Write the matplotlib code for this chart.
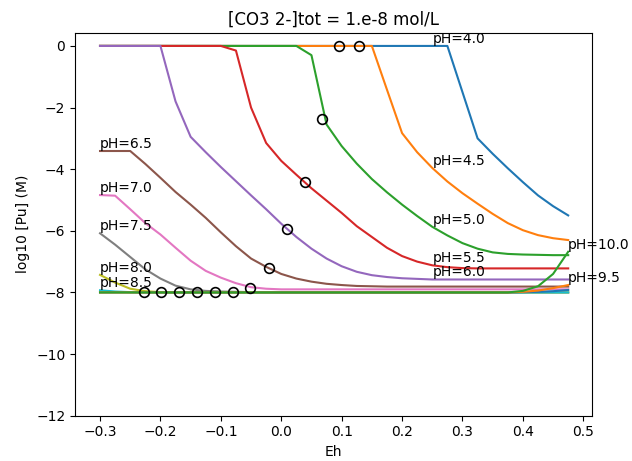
import matplotlib
matplotlib.use("Agg")
import matplotlib.pyplot as plt
import numpy as np

# Eh grid (V)
EH = [-0.300, -0.275, -0.250, -0.225, -0.200, -0.175, -0.150, -0.125,
      -0.100, -0.075, -0.050, -0.025, 0.000, 0.025, 0.050, 0.075,
      0.100, 0.125, 0.150, 0.175, 0.200, 0.225, 0.250, 0.275,
      0.300, 0.325, 0.350, 0.375, 0.400, 0.425, 0.450, 0.475]

PH = [4.0, 4.5, 5.0, 5.5, 6.0, 6.5, 7.0, 7.5, 8.0, 8.5, 9.0, 9.5, 10.0]

# log10 [Pu], one list per pH
pu_40 = [0, 0, 0, 0, 0, 0, 0, 0, 0, 0, 0, 0, 0, 0, 0, 0,
         0, 0, 0, 0, 0, 0, 0, 0, -1.5, -3.0, -3.5, -3.97, -4.42, -4.85, -5.2, -5.5]
pu_45 = [0, 0, 0, 0, 0, 0, 0, 0, 0, 0, 0, 0, 0, 0, 0, 0,
         0, 0, 0, -1.42, -2.83, -3.45, -3.96, -4.4, -4.78, -5.12, -5.45, -5.75,
         -5.98, -6.14, -6.24, -6.3]
pu_50 = [0, 0, 0, 0, 0, 0, 0, 0, 0, 0, 0, 0, 0, 0, -0.3, -2.55,
         -3.25, -3.82, -4.32, -4.75, -5.15, -5.52, -5.87, -6.15, -6.4, -6.58,
         -6.7, -6.75, -6.77, -6.78, -6.79, -6.79]
pu_55 = [0, 0, 0, 0, 0, 0, 0, 0, 0, -0.15, -2.0, -3.15, -3.73, -4.18, -4.62,
         -5.02, -5.42, -5.85, -6.2, -6.55, -6.82, -7.0, -7.12, -7.18, -7.21,
         -7.22, -7.22, -7.22, -7.22, -7.22, -7.22, -7.22]
pu_60 = [0, 0, 0, 0, 0, -1.8, -2.95, -3.45, -3.93, -4.39, -4.85, -5.3, -5.77,
         -6.2, -6.58, -6.9, -7.15, -7.33, -7.44, -7.5, -7.54, -7.56, -7.58,
         -7.58, -7.58, -7.58, -7.58, -7.58, -7.58, -7.58, -7.58, -7.58]
pu_65 = [-3.41, -3.41, -3.41, -3.83, -4.28, -4.74, -5.15, -5.58, -6.05, -6.5,
         -6.9, -7.17, -7.4, -7.55, -7.65, -7.72, -7.76, -7.79, -7.8, -7.81,
         -7.81, -7.81, -7.81, -7.81, -7.81, -7.81, -7.81, -7.81, -7.81, -7.81,
         -7.81, -7.81]
pu_70 = [-4.84, -4.86, -5.3, -5.75, -6.12, -6.55, -6.97, -7.3, -7.52, -7.7,
         -7.83, -7.88, -7.9, -7.9, -7.9, -7.9, -7.9, -7.9, -7.9, -7.9, -7.9,
         -7.9, -7.9, -7.9, -7.9, -7.9, -7.9, -7.9, -7.9, -7.9, -7.9, -7.9]
pu_75 = [-6.08, -6.45, -6.85, -7.25, -7.55, -7.78, -7.9, -7.95, -7.97, -7.98,
         -7.99, -8, -8, -8, -8, -8, -8, -8, -8, -8, -8, -8, -8, -8, -8, -8,
         -8, -8, -8, -8, -8, -8]
pu_80 = [-7.43, -7.68, -7.88, -7.96, -7.99, -8, -8, -8, -8, -8, -8, -8, -8,
         -8, -8, -8, -8, -8, -8, -8, -8, -8, -8, -8, -8, -8, -8, -8, -8, -8,
         -8, -8]
pu_85 = [-7.93, -7.97, -7.99, -8, -8, -8, -8, -8, -8, -8, -8, -8, -8, -8, -8,
         -8, -8, -8, -8, -8, -8, -8, -8, -8, -8, -8, -8, -8, -8, -8, -8, -8]
pu_90 = [-8, -8, -8, -8, -8, -8, -8, -8, -8, -8, -8, -8, -8, -8, -8, -8, -8,
         -8, -8, -8, -8, -8, -8, -8, -8, -8, -8, -8, -7.99, -7.98, -7.96, -7.92]
pu_95 = [-8, -8, -8, -8, -8, -8, -8, -8, -8, -8, -8, -8, -8, -8, -8, -8, -8,
         -8, -8, -8, -8, -8, -8, -8, -8, -8, -8, -8, -7.98, -7.94, -7.86, -7.76]
pu_100 = [-8, -8, -8, -8, -8, -8, -8, -8, -8, -8, -8, -8, -8, -8, -8, -8, -8,
          -8, -8, -8, -8, -8, -8, -8, -8, -8, -8, -8, -7.95, -7.8, -7.4, -6.68]

CURVES = [pu_40, pu_45, pu_50, pu_55, pu_60, pu_65, pu_70, pu_75, pu_80,
          pu_85, pu_90, pu_95, pu_100]

# grid index where each "pH=" label sits (None = no label)
LABEL_AT = [22, 22, 22, 22, 22, 0, 0, 0, 0, 0, None, 31, 31]

# open circles, one per pH
circ_eh = [0.129, 0.096, 0.067, 0.039, 0.009, -0.020, -0.051, -0.080,
           -0.110, -0.140, -0.170, -0.199, -0.228]
circ_pu = [0.0, 0.0, -2.38, -4.43, -5.94, -7.22, -7.87, -7.98,
           -8.0, -8.0, -8.0, -8.0, -8.0]

fig = plt.figure(figsize=(6.32, 4.61), dpi=100)
ax = fig.add_axes([0.1187, 0.0983, 0.8180, 0.8308])

for ph, pu in zip(PH, CURVES):
    ax.plot(EH, pu)

for ph, pu, k in zip(PH, CURVES, LABEL_AT):
    if k is None:
        continue
    ax.text(EH[k], pu[k], f"pH={ph:.1f}", va="bottom", fontsize=10)

ax.plot(circ_eh, circ_pu, "o", mfc="none", mec="k", ms=7, mew=1.2)

ax.set_xlim(-0.3414, 0.5144)
ax.set_ylim(-12, 0.43)
ax.set_xlabel("Eh")
ax.set_ylabel("log10 [Pu] (M)")
ax.set_title("[CO3 2-]tot = 1.e-8 mol/L")

fig.savefig("out.png", dpi=100)
